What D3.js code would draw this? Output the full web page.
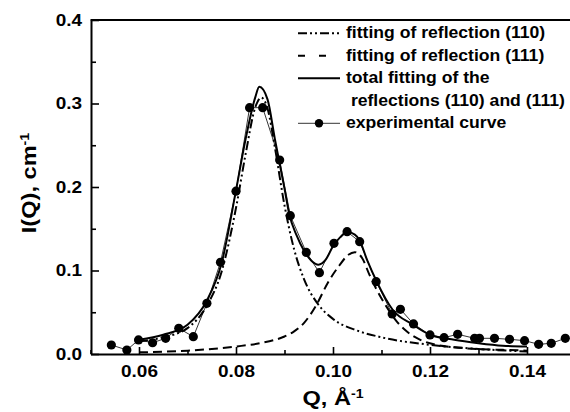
<!DOCTYPE html>
<html>
<head>
<meta charset="utf-8">
<script src="https://cdn.jsdelivr.net/npm/d3@7"></script>
<style>
  body { margin: 0; background: #fff; }
  text { font-family: "Liberation Sans", Arial, sans-serif; font-weight: bold; fill: #000; }
</style>
</head>
<body>
<div id="vis"></div>
<script>
// experimental points
const expQ = [0.0543, 0.0575, 0.0599, 0.0628, 0.0655, 0.0682, 0.0712, 0.0740, 0.0768, 0.0800,
    0.0828, 0.0855, 0.0890, 0.0912, 0.0945, 0.0972, 0.1002, 0.1029, 0.1055, 0.1089,
    0.1122, 0.1139, 0.1166, 0.1200, 0.1229, 0.1257, 0.1292, 0.1302, 0.1333, 0.1364,
    0.1395, 0.1424, 0.1450, 0.1479]
const expI = [0.0108, 0.0048, 0.0168, 0.0135, 0.0188, 0.0308, 0.0207, 0.0607, 0.1098, 0.195,
    0.295, 0.295, 0.2323, 0.1656, 0.1216, 0.0974, 0.1326, 0.1465, 0.1345, 0.0866,
    0.0479, 0.0535, 0.036, 0.0228, 0.0196, 0.0236, 0.0188, 0.0188, 0.0188, 0.0176,
    0.016, 0.0116, 0.0128, 0.0188]

// fitting of reflection (110)
const fit110Q = [0.060, 0.065, 0.070, 0.074, 0.077, 0.080, 0.082, 0.084, 0.0852, 0.0865, 0.088,
    0.090, 0.092, 0.094, 0.097, 0.100, 0.105, 0.110, 0.120, 0.130, 0.140]
const fit110I = [0.015, 0.020, 0.031, 0.058, 0.098, 0.175, 0.240, 0.296, 0.307, 0.294, 0.248,
    0.178, 0.125, 0.090, 0.059, 0.042, 0.028, 0.020, 0.011, 0.006, 0.003]

// fitting of reflection (111)
const fit111Q = [0.060, 0.070, 0.080, 0.085, 0.090, 0.0917, 0.094, 0.0965, 0.099, 0.1013, 0.1030,
    0.1045, 0.106, 0.1075, 0.109, 0.111, 0.113, 0.115, 0.118, 0.1213, 0.125, 0.1295, 0.135, 0.140]
const fit111I = [0.002, 0.004, 0.009, 0.013, 0.021, 0.026, 0.037, 0.058, 0.086, 0.106, 0.118,
    0.122, 0.115, 0.095, 0.077, 0.057, 0.040, 0.028, 0.017, 0.011, 0.008, 0.006, 0.005, 0.004]

// total fitting
const totalQ = [0.060, 0.065, 0.070, 0.074, 0.077, 0.080, 0.082, 0.084, 0.0848, 0.0865, 0.088,
    0.090, 0.091, 0.0925, 0.094, 0.0955, 0.097, 0.0985, 0.100, 0.1015, 0.103, 0.1045, 0.1055,
    0.107, 0.109, 0.1123, 0.1165, 0.120, 0.125, 0.130, 0.135, 0.140]
const totalI = [0.017, 0.023, 0.035, 0.064, 0.108, 0.196, 0.258, 0.308, 0.320, 0.305, 0.258,
    0.198, 0.167, 0.142, 0.124, 0.112, 0.107, 0.113, 0.129, 0.140, 0.146, 0.143, 0.136,
    0.113, 0.087, 0.053, 0.035, 0.023, 0.017, 0.013, 0.010, 0.009]

const xMajor = [0.06, 0.08, 0.10, 0.12, 0.14]
const xMinor = [0.05, 0.07, 0.09, 0.11, 0.13]
const yMajor = [0.0, 0.1, 0.2, 0.3, 0.4]
const yMinor = [0.05, 0.15, 0.25, 0.35]

const legendLabels = ['fitting of reflection (110)', 'fitting of reflection (111)',
    'total fitting of the', ' reflections (110) and (111)', 'experimental curve']

const W = 570, H = 412

const svg = d3.select('#vis').append('svg')
    .attr('width', W)
    .attr('height', H)

const x = d3.scaleLinear().domain([0.05, 0.15]).range([90.5, 575.5])
const y = d3.scaleLinear().domain([0, 0.4]).range([354, 20])

const zip = (qs, is) => qs.map((q, i) => [q, is[i]])

// the original figure's lettering is a bit wider than Arial, so stretch it sideways
function stretch(sel, s) {
    sel.each(function () {
        const t = d3.select(this)
        const tx = +t.attr('x') || 0, ty = +t.attr('y') || 0
        t.attr('x', 0).attr('y', 0)
            .attr('transform', `translate(${tx},${ty}) scale(${s},1)`)
    })
}

// axes
svg.append('g').attr('transform', 'translate(0,354)')
    .call(d3.axisBottom(x).tickValues(xMajor).tickFormat(d3.format('.2f'))
        .tickSize(-7).tickSizeOuter(0).tickPadding(11))
svg.append('g').attr('transform', 'translate(0,354)')
    .call(d3.axisBottom(x).tickValues(xMinor).tickFormat('').tickSize(-4).tickSizeOuter(0))
    .select('.domain').remove()

svg.append('g').attr('transform', 'translate(91,0)')
    .call(d3.axisLeft(y).tickValues(yMajor).tickFormat(d3.format('.1f'))
        .tickSize(-8).tickSizeOuter(0).tickPadding(9))
svg.append('g').attr('transform', 'translate(91,0)')
    .call(d3.axisLeft(y).tickValues(yMinor).tickFormat('').tickSize(-5).tickSizeOuter(0))
    .select('.domain').remove()

svg.selectAll('.domain').attr('stroke-width', 2)
svg.selectAll('.tick line').attr('stroke-width', 1.6)
svg.selectAll('.tick text').style('font-size', '16.5px')
    .style('font-family', '"Liberation Sans", Arial, sans-serif').style('font-weight', 'bold')
stretch(svg.selectAll('.tick text'), 1.15)

// top frame line
svg.append('line')
    .attr('x1', x(0.05)).attr('x2', x(0.15))
    .attr('y1', y(0.4)).attr('y2', y(0.4))
    .attr('stroke', '#000').attr('stroke-width', 2)

// axis titles
const yt = svg.append('text')
    .attr('transform', 'translate(36,183) rotate(-90) scale(1.18,1)')
    .attr('text-anchor', 'middle')
    .style('font-size', '20px')
yt.append('tspan').text('I(Q), cm')
yt.append('tspan').text('-1').attr('dy', '-0.55em').style('font-size', '12px')

const xt = svg.append('text')
    .attr('x', x(0.10)).attr('y', 405)
    .attr('text-anchor', 'middle')
    .style('font-size', '20px')
xt.append('tspan').text('Q, Å')
xt.append('tspan').text('-1').attr('dy', '-0.6em').style('font-size', '12px')
stretch(xt, 1.18)

// curves
const line = d3.line()
    .x(d => x(d[0]))
    .y(d => y(d[1]))
    .curve(d3.curveMonotoneX)

svg.append('path').datum(zip(expQ, expI))
    .attr('fill', 'none').attr('stroke', '#000').attr('stroke-width', 0.8)
    .attr('d', d3.line().x(d => x(d[0])).y(d => y(d[1])))

svg.append('path').datum(zip(fit110Q, fit110I))
    .attr('fill', 'none').attr('stroke', '#000').attr('stroke-width', 2)
    .attr('stroke-dasharray', '9,3,2,3,2,3')
    .attr('d', line)

svg.append('path').datum(zip(fit111Q, fit111I))
    .attr('fill', 'none').attr('stroke', '#000').attr('stroke-width', 2)
    .attr('stroke-dasharray', '9,5')
    .attr('d', line)

svg.append('path').datum(zip(totalQ, totalI))
    .attr('fill', 'none').attr('stroke', '#000').attr('stroke-width', 2)
    .attr('d', line)

svg.append('g').selectAll('circle')
    .data(zip(expQ, expI))
    .join('circle')
    .attr('cx', d => x(d[0]))
    .attr('cy', d => y(d[1]))
    .attr('r', 4.6)
    .attr('fill', '#000')

// legend
const lg = svg.append('g')
const rowY = [38, 60.5, 83, 105.5, 128]
lg.selectAll('text').data(legendLabels).join('text')
    .attr('x', 346)
    .attr('y', (d, i) => rowY[i])
    .style('font-size', '16px')
    .style('white-space', 'pre')
    .attr('xml:space', 'preserve')
    .text(d => d)
stretch(lg.selectAll('text'), 1.1)

const lx1 = 298, lx2 = 340
lg.append('line').attr('x1', lx1).attr('x2', lx2).attr('y1', rowY[0] - 4.7).attr('y2', rowY[0] - 4.7)
    .attr('stroke', '#000').attr('stroke-width', 2).attr('stroke-dasharray', '9,3,2,3,2,3')
lg.append('line').attr('x1', lx1).attr('x2', 328).attr('y1', rowY[1] - 4.7).attr('y2', rowY[1] - 4.7)
    .attr('stroke', '#000').attr('stroke-width', 2).attr('stroke-dasharray', '7,14')
lg.append('line').attr('x1', lx1).attr('x2', lx2).attr('y1', rowY[2] - 4.7).attr('y2', rowY[2] - 4.7)
    .attr('stroke', '#000').attr('stroke-width', 2)
lg.append('line').attr('x1', lx1).attr('x2', lx2).attr('y1', rowY[4] - 4.7).attr('y2', rowY[4] - 4.7)
    .attr('stroke', '#000').attr('stroke-width', 0.8)
lg.append('circle').attr('cx', 319).attr('cy', rowY[4] - 4.7).attr('r', 4.2).attr('fill', '#000')
</script>
</body>
</html>
